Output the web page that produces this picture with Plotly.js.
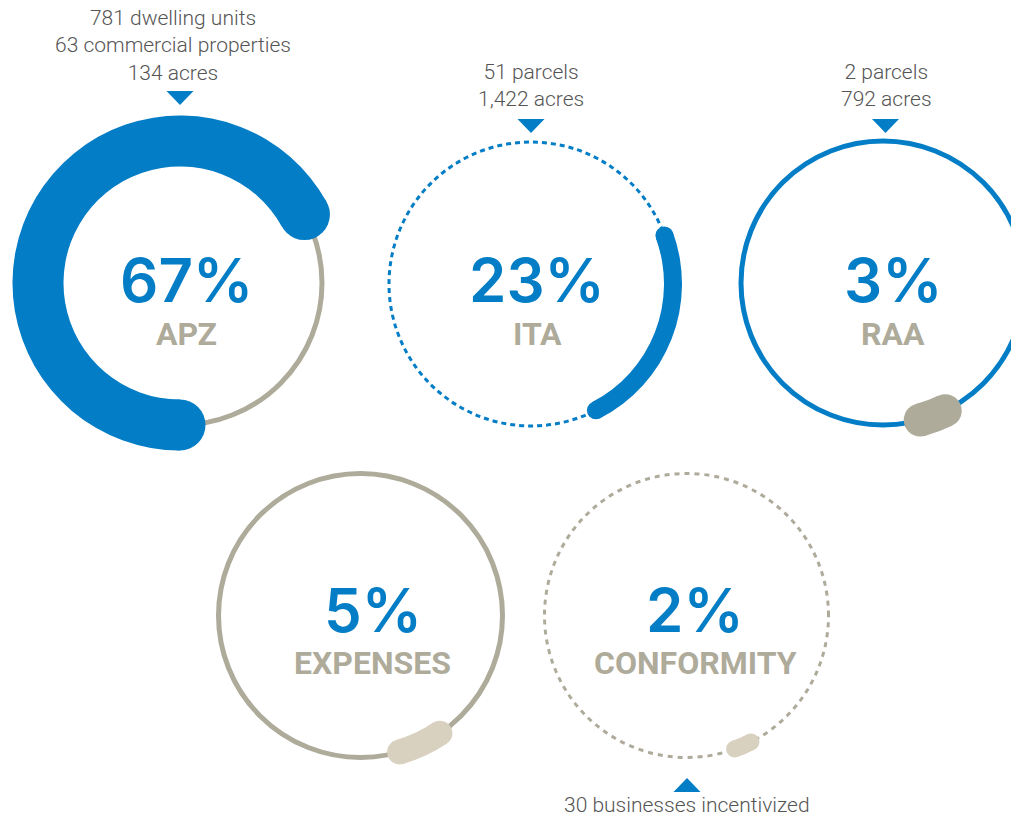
<!DOCTYPE html>
<html>
<head>
<meta charset="utf-8">
<script src="https://cdn.plot.ly/plotly-3.0.1.min.js"></script>
<style>
  html, body { margin: 0; padding: 0; background: #ffffff; overflow: hidden; }
  #chart { width: 1060px; height: 819px; }
</style>
</head>
<body>
<div id="chart"></div>
<script>
// ---------------- data ----------------
const categories = ['APZ', 'ITA', 'RAA', 'EXPENSES', 'CONFORMITY'];
const percents = [67, 23, 3, 5, 2];
const notes = [
  '781 dwelling units<br>63 commercial properties<br>134 acres',
  '51 parcels<br>1,422 acres',
  '2 parcels<br>792 acres',
  '',
  '30 businesses incentivized'
];

// ---------------- styling / layout ----------------
const W = 1060, H = 819;          // plot is wider than the window: the RAA ring is cut at the right edge
const R = 170;                    // radial range == pixel radius of each polar subplot
const RING = 142;                 // radius of the rings
const BLUE = '#037dc5', GRAY = '#afab9b', BEIGE = '#d9d1bf', TEXT = '#555555';

const centers   = [[180, 283], [531, 284], [883, 283], [360.5, 615.5], [686.5, 615.5]];
const ringColor = [GRAY, BLUE, BLUE, GRAY, GRAY];
const ringWidth = [5, 3, 5, 5, 3];
const ringDash  = ['solid', '5px,4px', 'solid', 'solid', '5px,5px'];
const arcColor  = [BLUE, BLUE, GRAY, BEIGE, BEIGE];
const arcThick  = [51, 18, 33, 25, 17];
const arcStart  = [180, 70, 154, 146, 153];   // degrees, clockwise from 12 o'clock
const numPos    = [[186, 280], [537, 280], [893, 280], [373, 610], [695, 610]];
const labPos    = [[186, 334], [537, 334], [893, 334], [372, 663], [695, 663]];
const notePos   = [[173, 45], [531, 86], [886, 86], null, [687, 805]];
const triangles = [                // pointer triangles: [cx, cy, direction]
  [180, 98, 'down'], [531, 126, 'down'], [885.5, 126, 'down'], [687, 785, 'up']
];

const fx = px => px / W;
const fy = py => 1 - py / H;

const traces = [];
const layout = {
  width: W, height: H,
  margin: {l: 0, r: 0, t: 0, b: 0},
  paper_bgcolor: '#ffffff',
  showlegend: false,
  annotations: [],
  shapes: []
};

categories.forEach((cat, i) => {
  const key = i === 0 ? 'polar' : 'polar' + (i + 1);
  const [cx, cy] = centers[i];
  layout[key] = {
    domain: {x: [fx(cx - R), fx(cx + R)], y: [fy(cy + R), fy(cy - R)]},
    bgcolor: 'rgba(0,0,0,0)',
    radialaxis: {
      range: [0, R], showticklabels: false, ticks: '', showline: false,
      tickmode: 'array', tickvals: [RING], showgrid: true,
      gridcolor: ringColor[i], gridwidth: ringWidth[i], griddash: ringDash[i]
    },
    angularaxis: {
      rotation: 90, direction: 'clockwise', showgrid: false, showline: false,
      showticklabels: false, ticks: ''
    }
  };

  const span = percents[i] / 100 * 360;
  const start = arcStart[i];
  const t = arcThick[i];

  // the arc: one polar bar sized by the percentage
  traces.push({
    type: 'barpolar', subplot: key,
    r: [t], base: [RING - t / 2],
    theta: [start + span / 2], width: [span],
    marker: {color: arcColor[i], line: {width: 0}},
    hoverinfo: 'skip'
  });
  // rounded ends of the arc
  traces.push({
    type: 'scatterpolar', subplot: key, mode: 'markers',
    r: [RING, RING], theta: [start, start + span],
    marker: {size: t, color: arcColor[i], line: {width: 0}},
    cliponaxis: false, hoverinfo: 'skip'
  });

  layout.annotations.push({
    xref: 'paper', yref: 'paper', x: fx(numPos[i][0]), y: fy(numPos[i][1]),
    xanchor: 'center', yanchor: 'middle', showarrow: false,
    text: percents[i] + '%',
    font: {family: 'Inter, "Noto Sans", sans-serif', size: 60, weight: 600, color: BLUE}
  });
  layout.annotations.push({
    xref: 'paper', yref: 'paper', x: fx(labPos[i][0]), y: fy(labPos[i][1]),
    xanchor: 'center', yanchor: 'middle', showarrow: false,
    text: cat,
    font: {family: 'Roboto, "Liberation Sans", sans-serif', size: 32, weight: 700, color: GRAY}
  });
  if (notes[i]) {
    layout.annotations.push({
      xref: 'paper', yref: 'paper', x: fx(notePos[i][0]), y: fy(notePos[i][1]),
      xanchor: 'center', yanchor: 'middle', showarrow: false, align: 'center',
      text: notes[i],
      font: {family: 'Roboto, "Liberation Sans", sans-serif', size: 21, weight: 300, color: TEXT}
    });
  }
});

triangles.forEach(([cx, cy, dir]) => {
  const hw = 13.5, hh = 7;
  const p = dir === 'down'
    ? [[cx - hw, cy - hh], [cx + hw, cy - hh], [cx, cy + hh]]
    : [[cx - hw, cy + hh], [cx + hw, cy + hh], [cx, cy - hh]];
  layout.shapes.push({
    type: 'path', xref: 'paper', yref: 'paper',
    path: 'M' + p.map(q => fx(q[0]) + ',' + fy(q[1])).join('L') + 'Z',
    fillcolor: BLUE, line: {width: 0}
  });
});

Plotly.newPlot('chart', traces, layout, {displayModeBar: false, staticPlot: true});
</script>
</body>
</html>
